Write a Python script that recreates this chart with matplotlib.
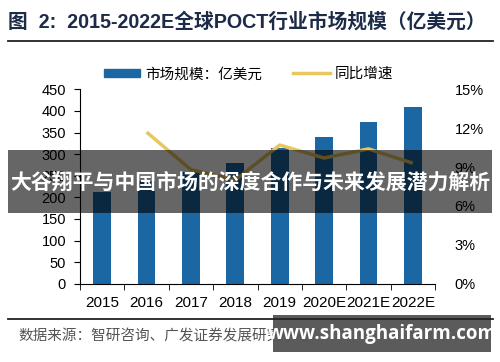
import matplotlib.pyplot as plt
from matplotlib.patches import Rectangle
from matplotlib.lines import Line2D

plt.rcParams['font.family'] = ['Liberation Sans', 'Noto Sans CJK SC', 'DejaVu Sans']

years = ['2015', '2016', '2017', '2018', '2019', '2020E', '2021E', '2022E']
market = [213, 238, 259, 279, 313, 340, 375, 410]          # 亿美元
growth_years = years[1:]
growth = [11.7, 8.8, 8.0, 10.7, 9.7, 10.4, 9.3]            # %

bar_color = '#1b67a3'
line_color = '#e8c75e'
cjk = ['Noto Sans CJK SC', 'DejaVu Sans']


def main():
    fig = plt.figure(figsize=(5, 3.62), dpi=100)
    ax = fig.add_axes([0.16, 0.2163, 0.71, 0.537])
    ax2 = ax.twinx()

    xs = list(range(len(years)))
    ax.bar(xs, market, width=0.4, color=bar_color, zorder=2)
    gx = [years.index(y) for y in growth_years]
    ax2.plot(gx, growth, color=line_color, lw=2.5, solid_capstyle='butt')

    ax.set_xlim(-0.5, len(years) - 0.5)
    ax.set_ylim(0, 450)
    ax.set_yticks(range(0, 451, 50))
    ax2.set_ylim(0, 15)
    ax2.set_yticks(range(0, 16, 3))
    ax2.set_yticklabels([f'{v}%' for v in range(0, 16, 3)])

    ax.set_xticks(xs)
    ax.set_xticklabels(years)
    ax.set_xticks([x - 0.5 for x in range(len(years) + 1)], minor=True)
    ax.tick_params(axis='x', which='major', length=0, pad=9, labelsize=11)
    ax.tick_params(axis='x', which='minor', length=4, direction='out')
    ax.tick_params(axis='y', length=4, pad=6, labelsize=10.5)
    ax2.tick_params(axis='y', length=0, pad=14, labelsize=10.5)

    for a in (ax, ax2):
        a.spines['top'].set_visible(False)
        a.spines['right'].set_visible(False)
    ax2.spines['left'].set_visible(False)
    ax2.spines['bottom'].set_visible(False)

    # legend
    handles = [Rectangle((0, 0), 1, 1, color=bar_color),
               Line2D([], [], color=line_color, lw=2.5)]
    fig.legend(handles, ['市场规模：亿美元', '同比增速'], loc='center',
               bbox_to_anchor=(0.497, 0.795), ncol=2, frameon=False,
               prop={'family': cjk, 'size': 10.5}, handlelength=2.5,
               handletextpad=0.35, columnspacing=2.1, handleheight=0.55)

    # title and rules
    fig.text(0.016, 0.94, '图  2:  2015-2022E全球POCT行业市场规模（亿美元）',
             fontsize=14.2, fontweight='bold', color='#1c2b48',
             family=['Liberation Sans'] + cjk, va='center')
    fig.add_artist(Line2D([0.016, 0.986], [0.887, 0.887], color='#222222', lw=1.3))
    fig.add_artist(Line2D([0.016, 0.986], [0.119, 0.119], color='#222222', lw=1.3))
    fig.text(0.036, 0.07, '数据来源：智研咨询、广发证券发展研究中心', fontsize=10.5,
             color='#555555', family=cjk, va='center')

    # overlay banner
    fig.add_artist(Rectangle((0.016, 1 - 213 / 362), 0.968, 63 / 362,
                             transform=fig.transFigure, color='black', alpha=0.6, lw=0))
    fig.text(0.5, 1 - 182 / 362, '大谷翔平与中国市场的深度合作与未来发展潜力解析',
             fontsize=15, fontweight='bold', color='white', family=cjk,
             ha='center', va='center')

    # watermark
    fig.add_artist(Rectangle((273 / 500, 1 - 352 / 362), 218 / 500, 37 / 362,
                             transform=fig.transFigure, color='#4d4d4d', alpha=0.92, lw=0))
    fig.text(382 / 500, 1 - 334 / 362, 'www.shanghaifarm.com', fontsize=13.5,
             fontweight='bold', color='white', family=['Open Sans', 'DejaVu Sans'],
             ha='center', va='center')

    fig.savefig('out.png', dpi=100)


if __name__ == '__main__':
    main()
